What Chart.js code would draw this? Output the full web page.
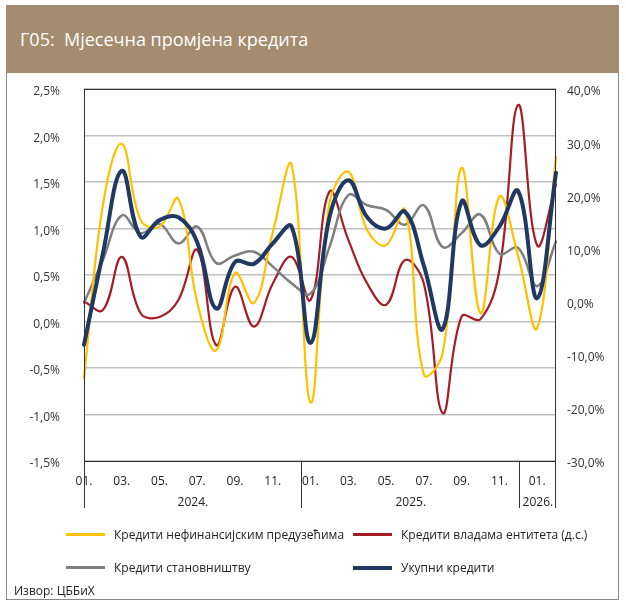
<!DOCTYPE html>
<html>
<head>
<meta charset="utf-8">
<script src="https://cdn.jsdelivr.net/npm/chart.js@4"></script>
<style>
  body { margin: 0; background: #fff; font-family: "Open Sans", sans-serif; }
  #frame { position: absolute; left: 6px; top: 5px; width: 613px; height: 595px; border: 1px solid #8a8a8a; box-sizing: border-box; }
  #title { position: absolute; left: 6px; top: 5px; width: 613px; height: 68px; background: #a38c6f; color: #fff; font-size: 18px; line-height: 68px; padding-left: 14px; box-sizing: border-box; }
  #chart { position: absolute; left: 0; top: 0; }
  .leg { position: absolute; font-size: 12px; color: #222; white-space: nowrap; }
  .leg span { display: inline-block; width: 39px; height: 3px; vertical-align: middle; margin-right: 9px; position: relative; top: -1px; }
  #src { position: absolute; left: 14px; top: 582px; font-size: 12px; color: #222; }
</style>
</head>
<body>
<div id="frame"></div>
<div id="title">Г05:&nbsp; Мјесечна промјена кредита</div>
<canvas id="chart" width="626" height="607"></canvas>
<div class="leg" style="left:66px; top:526px;"><span style="background:#ffc000"></span>Кредити нефинансијским предузећима</div>
<div class="leg" style="left:353px; top:526px;"><span style="background:#a51c24"></span>Кредити владама ентитета (д.с.)</div>
<div class="leg" style="left:66px; top:559px;"><span style="background:#7f7f7f"></span>Кредити становништву</div>
<div class="leg" style="left:353px; top:559px;"><span style="background:#1f3864; height:4px;"></span>Укупни кредити</div>
<div id="src">Извор: ЦББиХ</div>
<script>
const months = ["01.", "02.", "03.", "04.", "05.", "06.", "07.", "08.", "09.", "10.", "11.", "12.",
  "01.", "02.", "03.", "04.", "05.", "06.", "07.", "08.", "09.", "10.", "11.", "12.",
  "01.", "02."];
const years = ["2024.", "2025.", "2026."];
const yearLengths = [12, 12, 2];

const corporate = [-0.61, 1.25, 1.91, 1.09, 1.02, 1.32, 0.2, -0.31, 0.52, 0.2, 0.96, 1.68,
  -0.87, 1.27, 1.61, 0.98, 0.82, 1.2, -0.57, -0.34, 1.65, 0.09, 1.34, 0.7, -0.07, 1.77];
const government = [0, -1.6, 8.4, -2.2, -2.9, 0.3, 9.7, -8.2, 2.8, -4.7, 3.4, 8.4,
  0.3, 20.7, 11.6, 3.4, -0.6, 7.8, 3.4, -21, -2.8, -3.3, 5.9, 37, 10.6, 22];
const households = [0.2, 0.66, 1.14, 0.95, 1.05, 0.84, 1.02, 0.63, 0.71, 0.75, 0.59, 0.41,
  0.3, 0.8, 1.36, 1.25, 1.2, 1.04, 1.25, 0.8, 0.95, 1.15, 0.73, 0.79, 0.38, 0.86];
const total = [-0.25, 0.73, 1.62, 0.91, 1.09, 1.12, 0.85, 0.14, 0.64, 0.62, 0.84, 1.02,
  -0.23, 1.12, 1.52, 1.12, 1.0, 1.18, 0.6, -0.08, 1.29, 0.82, 1.02, 1.4, 0.25, 1.6];

// empty first line pushes the label a few px below its gridline, as in the original
const pct = v => ["", v.toFixed(1).replace(".", ",") + "%"];
const tickFont = { family: "'Open Sans'", size: 12, lineHeight: 0.5 };

// border round the plot, year separators and year labels
const frameAndYears = {
  id: "frameAndYears",
  afterDraw(chart) {
    const ctx = chart.ctx;
    const a = chart.chartArea;
    const x = chart.scales.x;
    const w = (x.right - x.left) / months.length;
    ctx.save();
    ctx.strokeStyle = "#333";
    ctx.lineWidth = 1;
    ctx.strokeRect(a.left + 0.5, a.top + 0.5, a.right - a.left - 1, a.bottom - a.top);
    ctx.font = "12px 'Open Sans'";
    ctx.fillStyle = "#222";
    ctx.textAlign = "center";
    ctx.textBaseline = "middle";
    let start = 0;
    ctx.beginPath();
    ctx.moveTo(x.left + 0.5, a.bottom);
    ctx.lineTo(x.left + 0.5, a.bottom + 47);
    years.forEach((yr, i) => {
      const x0 = x.left + start * w;
      const x1 = x.left + (start + yearLengths[i]) * w;
      ctx.moveTo(Math.round(x1) - 0.5, a.bottom);
      ctx.lineTo(Math.round(x1) - 0.5, a.bottom + 47);
      ctx.fillText(yr, (x0 + x1) / 2, a.bottom + 42);
      start += yearLengths[i];
    });
    ctx.stroke();
    ctx.restore();
  }
};

new Chart(document.getElementById("chart"), {
  type: "line",
  data: {
    labels: months,
    datasets: [
      { label: "Укупни кредити", data: total, borderColor: "#1f3864", borderWidth: 4, yAxisID: "y", order: 0 },
      { label: "Кредити становништву", data: households, borderColor: "#7f7f7f", borderWidth: 2.5, yAxisID: "y", order: 2 },
      { label: "Кредити владама ентитета (д.с.)", data: government, borderColor: "#a51c24", borderWidth: 2.2, yAxisID: "y1", order: 3 },
      { label: "Кредити нефинансијским предузећима", data: corporate, borderColor: "#ffc000", borderWidth: 2.2, yAxisID: "y", order: 1 }
    ]
  },
  options: {
    responsive: false,
    animation: false,
    layout: { padding: { top: 89, bottom: 0, left: 0, right: 0 } },
    elements: {
      point: { radius: 0 },
      line: { tension: 0.4, borderCapStyle: "round", borderJoinStyle: "round" }
    },
    plugins: { legend: { display: false }, tooltip: { enabled: false } },
    scales: {
      x: {
        grid: { display: false },
        border: { display: false },
        afterFit: s => { s.height = 146; },
        ticks: {
          autoSkip: false,
          maxRotation: 0,
          padding: 5,
          color: "#222",
          font: { family: "'Open Sans'", size: 12 },
          callback: (v, i) => (i % 2 === 0 ? months[i] : "")
        }
      },
      y: {
        position: "left",
        min: -1.5,
        max: 2.5,
        afterFit: s => { s.width = 84; },
        grid: { color: "#c0c0c0", lineWidth: 1.5, drawTicks: false },
        border: { display: false },
        ticks: {
          stepSize: 0.5,
          padding: 24,
          color: "#333",
          font: tickFont,
          callback: v => pct(v)
        }
      },
      y1: {
        position: "right",
        min: -30,
        max: 40,
        afterFit: s => { s.width = 70; },
        grid: { display: false, drawTicks: false },
        border: { display: false },
        ticks: {
          stepSize: 10,
          padding: 11,
          color: "#333",
          font: tickFont,
          callback: v => pct(v)
        }
      }
    }
  },
  plugins: [frameAndYears]
});
</script>
</body>
</html>
